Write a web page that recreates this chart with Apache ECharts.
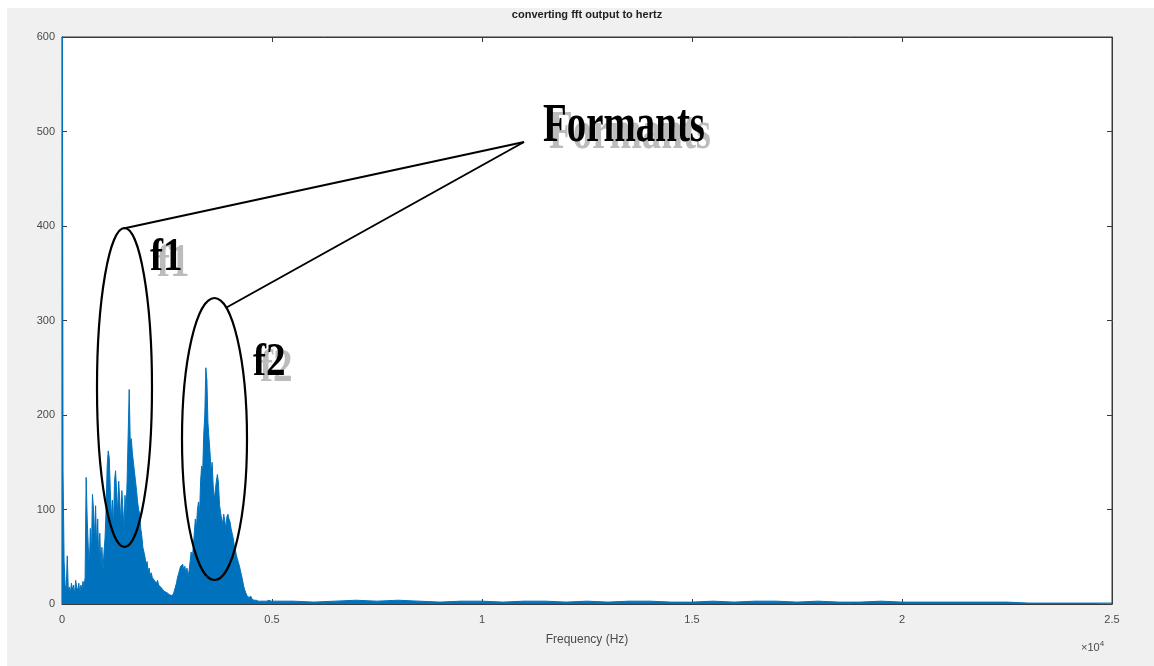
<!DOCTYPE html>
<html><head><meta charset="utf-8">
<script src="https://cdn.jsdelivr.net/npm/echarts@6/dist/echarts.min.js"></script>
<style>html,body{margin:0;padding:0;background:#fff}#c{width:1154px;height:666px}</style>
</head><body><div id="c"></div>
<script>
// Spectrum magnitude, 0..5000 Hz sampled every 25 Hz (first value is the clipped DC term)
const FINE_STEP_HZ = 25;
const fineAmps = [
  900,140,45,20,15,51,14,18,12,22,15,20,10,25,18,14,22,12,20,16,
  24,18,28,134,90,60,40,80,50,116,100,70,104,60,90,45,75,40,60,35,
  55,70,100,145,162,155,120,90,110,80,130,141,120,95,130,110,85,120,100,80,
  115,95,130,178,227,170,175,160,150,140,130,120,108,100,95,80,72,60,55,50,
  42,45,35,38,30,33,28,30,25,27,22,25,20,22,18,20,15,17,13,15,
  12,14,10,12,9,11,10,14,18,22,28,32,36,40,38,42,35,40,32,38,
  30,35,45,55,48,60,75,90,80,100,108,95,130,146,140,180,200,250,237,192,
  175,160,139,150,125,110,120,130,137,128,105,97,90,85,95,88,80,92,95,90,
  87,80,75,70,62,58,52,48,44,40,35,30,25,19,15,12,9,8,7,6,
  8,5,6,4,5,4,6,3,4,3,5,3,4,3,4,3,3,4,3,3,4
];
// Tail 5500..25000 Hz every 500 Hz
const TAIL_START_HZ = 5500;
const TAIL_STEP_HZ = 500;
const tailAmps = [
  3,2,3,4,3,4,3,2,3,3,2,3,3,2,3,2,3,3,2,2,
  3,2,3,3,2,3,2,2,3,2,2,2,2,2,2,1,1,1,1,1
];
const xTickLabels = ['0','0.5','1','1.5','2','2.5'];
const yTickLabels = ['0','100','200','300','400','500','600'];

const data = fineAmps.map((v,i)=>[i*FINE_STEP_HZ, v])
  .concat(tailAmps.map((v,i)=>[TAIL_START_HZ + i*TAIL_STEP_HZ, v]));

const chart = echarts.init(document.getElementById('c'));
const axisCol = '#3a3a3a';
const labelCol = '#4a4a4a';
const font = 'Liberation Sans, Arial, sans-serif';
const serif = 'Liberation Serif, Times New Roman, serif';
const tick = {show:true, inside:true, length:5, lineStyle:{color:axisCol, width:1}};
const line = {show:true, onZero:false, lineStyle:{color:axisCol, width:1}};

function txt(x,y,text,size,fill,sx,z){
  return {type:'text', x:x, y:y, scaleX:sx, z:z, silent:true,
    style:{text:text, fill:fill, font:'bold '+size+'px '+serif, align:'left', verticalAlign:'bottom', textAlign:'left', textVerticalAlign:'bottom'}};
}

chart.setOption({
  animation:false,
  backgroundColor:'#ffffff',
  grid:{left:62, top:37, right:42, bottom:62, show:true, backgroundColor:'#ffffff', borderColor:axisCol, borderWidth:1},
  xAxis:[{
    type:'value', min:0, max:25000, interval:5000,
    axisLine:line, axisTick:tick, splitLine:{show:false},
    axisLabel:{margin:10, color:labelCol, fontSize:11, fontFamily:font,
      formatter:(v)=>xTickLabels[Math.round(v/5000)]},
    name:'Frequency (Hz)', nameLocation:'middle', nameGap:30,
    nameTextStyle:{color:labelCol, fontSize:12, fontFamily:font}
  },{
    type:'value', position:'top', min:0, max:25000, interval:5000,
    axisLine:line, axisTick:tick, axisLabel:{show:false}, splitLine:{show:false}
  }],
  yAxis:[{
    type:'value', min:0, max:600, interval:100,
    axisLine:line, axisTick:tick, splitLine:{show:false},
    axisLabel:{margin:7, color:labelCol, fontSize:11, fontFamily:font,
      formatter:(v)=>yTickLabels[Math.round(v/100)]}
  },{
    type:'value', position:'right', min:0, max:600, interval:100,
    axisLine:line, axisTick:tick, axisLabel:{show:false}, splitLine:{show:false}
  }],
  series:[{
    type:'line', data:data, showSymbol:false, sampling:'none', clip:true,
    lineStyle:{color:'#0072BD', width:1},
    areaStyle:{color:'#0072BD', opacity:1},
    z:3
  }],
  graphic:[
    {type:'rect', z:-10, silent:true, shape:{x:7,y:8,width:1147,height:658}, style:{fill:'#f0f0f0'}},
    {type:'text', x:587, y:15, z:10, silent:true, style:{text:'converting fft output to hertz', fill:'#222', font:'bold 11px '+font, align:'center', verticalAlign:'middle', textAlign:'center', textVerticalAlign:'middle'}},
    {type:'text', x:1081, y:648, z:10, silent:true, style:{
      text:'{a|×10}{b|4}', fill:labelCol, align:'left', verticalAlign:'middle', textAlign:'left', textVerticalAlign:'middle',
      rich:{a:{fontSize:11, fontFamily:font, fill:labelCol, color:labelCol}, b:{fontSize:8, fontFamily:font, fill:labelCol, color:labelCol, verticalAlign:'top', padding:[0,0,8,0]}}}},
    // annotations
    {type:'ellipse', z:20, silent:true, shape:{cx:124.5, cy:387.5, rx:27.5, ry:159.5}, style:{fill:null, stroke:'#000', lineWidth:2.2}},
    {type:'ellipse', z:20, silent:true, shape:{cx:214.5, cy:439, rx:32.5, ry:141}, style:{fill:null, stroke:'#000', lineWidth:2.2}},
    {type:'line', z:20, silent:true, shape:{x1:123.5, y1:228.5, x2:524, y2:142}, style:{stroke:'#000', lineWidth:2}},
    {type:'line', z:20, silent:true, shape:{x1:226.5, y1:307.5, x2:524, y2:142}, style:{stroke:'#000', lineWidth:2}},
    txt(549,161,'Formants',54,'#bcbcbc',0.72,19),
    txt(543,154,'Formants',54,'#000',0.72,21),
    txt(157,287,'f1',46,'#bcbcbc',0.85,19),
    txt(150,281,'f1',46,'#000',0.85,21),
    txt(260,392,'f2',46,'#bcbcbc',0.85,19),
    txt(253,386,'f2',46,'#000',0.85,21)
  ]
});
</script></body></html>
